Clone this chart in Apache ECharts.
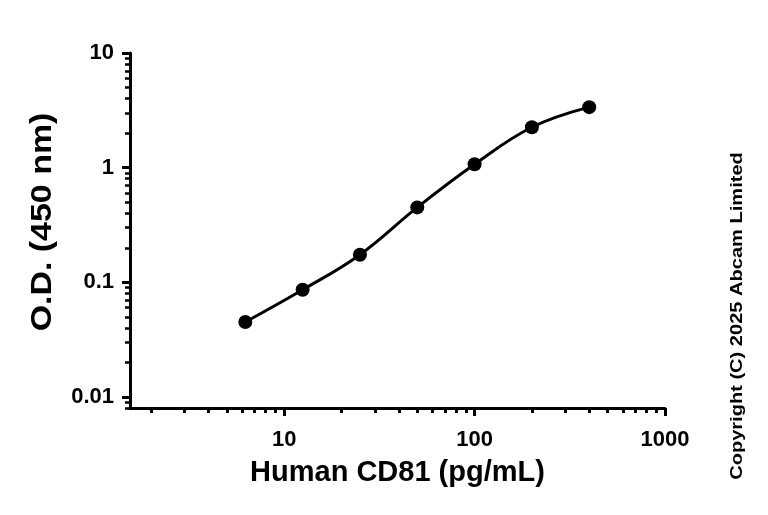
<!DOCTYPE html>
<html>
<head>
<meta charset="utf-8">
<script src="https://cdn.jsdelivr.net/npm/echarts@6/dist/echarts.min.js"></script>
<style>
    html, body { margin: 0; padding: 0; background: #fff; }
    #chart { width: 768px; height: 515px; }
</style>
</head>
<body>
<div id="chart"></div>
<script>
// data
const concentrations = [6.25, 12.5, 25, 50, 100, 200, 400]
const odValues = [0.045, 0.086, 0.174, 0.45, 1.07, 2.25, 3.37]

// tick labels / tick positions
const xMajorTicks = [10, 100, 1000]
const xMinorTicks = [2, 3, 4, 5, 6, 7, 8, 9, 20, 30, 40, 50, 60, 70, 80, 90, 200, 300, 400, 500, 600, 700, 800, 900]
const yMajorTicks = [0.01, 0.1, 1, 10]
const yMinorTicks = [0.008, 0.009, 0.02, 0.03, 0.04, 0.05, 0.06, 0.07, 0.08, 0.09,
    0.2, 0.3, 0.4, 0.5, 0.6, 0.7, 0.8, 0.9, 2, 3, 4, 5, 6, 7, 8, 9]

;(function () {
    const font = 'Liberation Sans'
    const chart = echarts.init(document.getElementById('chart'))

    const xBase = { type: 'log', logBase: 10, min: 1.55, max: 1000, gridIndex: 0, position: 'bottom', splitLine: { show: false } }
    const yBase = { type: 'log', logBase: 10, min: 0.008, max: 10, gridIndex: 0, position: 'left', splitLine: { show: false } }

    const option = {
        animation: false,
        grid: { left: 130, right: 103, top: 53, bottom: 107 },
        xAxis: [
            Object.assign({}, xBase, {
                name: 'Human CD81 (pg/mL)',
                nameLocation: 'middle',
                nameGap: 50,
                nameTextStyle: { fontFamily: font, fontWeight: 'bold', fontSize: 29, color: '#000' },
                axisLine: { lineStyle: { color: '#000', width: 3 } },
                axisTick: { customValues: xMajorTicks, length: 8, lineStyle: { color: '#000', width: 3 } },
                axisLabel: {
                    customValues: xMajorTicks, margin: 21,
                    fontFamily: font, fontWeight: 'bold', fontSize: 22, color: '#000',
                    formatter: v => String(v)
                }
            }),
            Object.assign({}, xBase, {
                axisLine: { show: false },
                axisTick: { customValues: xMinorTicks, length: 5, lineStyle: { color: '#000', width: 3 } },
                axisLabel: { show: false }
            })
        ],
        yAxis: [
            Object.assign({}, yBase, {
                axisLine: { lineStyle: { color: '#000', width: 3 } },
                axisTick: { customValues: yMajorTicks, length: 8, lineStyle: { color: '#000', width: 3 } },
                axisLabel: {
                    customValues: yMajorTicks, margin: 16,
                    fontFamily: font, fontWeight: 'bold', fontSize: 22, color: '#000',
                    formatter: v => String(v)
                }
            }),
            Object.assign({}, yBase, {
                axisLine: { show: false },
                axisTick: { customValues: yMinorTicks, length: 5, lineStyle: { color: '#000', width: 2.5 } },
                axisLabel: { show: false }
            })
        ],
        graphic: [
            {
                // y axis title, the source picture is a bit stretched vertically
                type: 'text',
                x: 43,
                y: 222,
                rotation: Math.PI / 2,
                scaleX: 1.17,
                style: {
                    text: 'O.D. (450 nm)',
                    fontFamily: font, fontWeight: 'bold', fontSize: 29, fill: '#000',
                    align: 'center', verticalAlign: 'middle'
                }
            },
            {
                type: 'text',
                x: 737,
                y: 316,
                rotation: Math.PI / 2,
                scaleX: 1.18,
                style: {
                    text: 'Copyright (C) 2025 Abcam Limited',
                    fontFamily: font, fontWeight: 'bold', fontSize: 17, fill: '#000',
                    align: 'center', verticalAlign: 'middle'
                }
            }
        ],
        series: [
            {
                type: 'line',
                xAxisIndex: 0,
                yAxisIndex: 0,
                data: concentrations.map((c, i) => [c, odValues[i]]),
                smooth: 0.4,
                symbol: 'circle',
                symbolSize: 14,
                itemStyle: { color: '#000' },
                lineStyle: { color: '#000', width: 3 }
            }
        ]
    }

    chart.setOption(option)
    window.addEventListener('resize', () => {
        chart.resize()
    })
})();
</script>
</body>
</html>
